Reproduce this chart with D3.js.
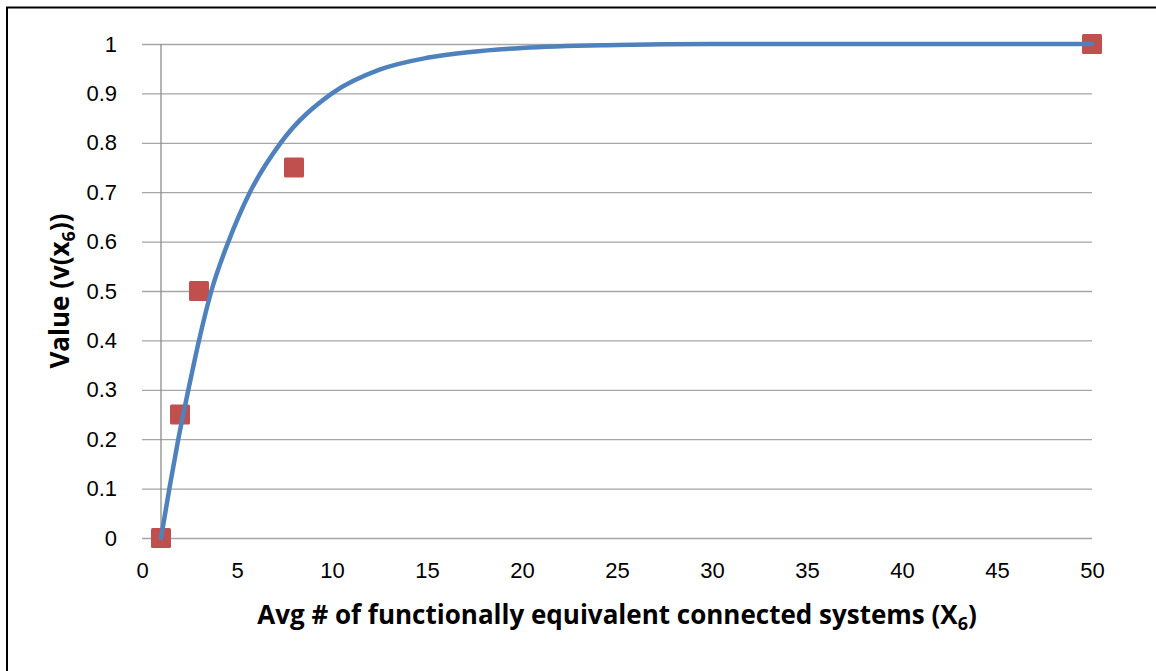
<!DOCTYPE html>
<html>
<head>
<meta charset="utf-8">
<script src="https://cdn.jsdelivr.net/npm/d3@7"></script>
<style>
  html, body { margin: 0; padding: 0; background: #fff; }
  svg { display: block; font-family: "Open Sans", "Liberation Sans", sans-serif; }
</style>
</head>
<body>
<div id="chart"></div>
<script>
// observed points (red squares)
var pointX = [1, 2, 3, 8, 50];
var pointY = [0, 0.25, 0.5, 0.75, 1];

// fitted curve
var curveX = [1, 1.44, 1.91, 2.44, 3.0, 3.65, 4.55, 5.68, 7.3, 10.0, 12.5, 15, 17.3, 20, 25, 30, 50];
var curveY = [0, 0.1, 0.2, 0.3, 0.4, 0.5, 0.6, 0.7, 0.8, 0.9, 0.948, 0.972, 0.984, 0.992, 0.998, 1, 1];

var xTicks = [0, 5, 10, 15, 20, 25, 30, 35, 40, 45, 50];
var yTicks = [0, 0.1, 0.2, 0.3, 0.4, 0.5, 0.6, 0.7, 0.8, 0.9, 1];

var W = 1156, H = 671;
var margin = { top: 44, right: 64, bottom: 133, left: 142 };

var svg = d3.select("#chart")
    .append("svg")
    .attr("width", W)
    .attr("height", H);

// outer frame (runs off the right and bottom edges)
svg.append("rect")
    .attr("x", 7)
    .attr("y", 7.5)
    .attr("width", W + 10)
    .attr("height", H + 10)
    .style("fill", "none")
    .style("stroke", "#000")
    .style("stroke-width", 2);

var x = d3.scaleLinear()
    .domain([0, 50])
    .range([margin.left, W - margin.right]);

var y = d3.scaleLinear()
    .domain([0, 1])
    .range([H - margin.bottom, margin.top]);

// horizontal gridlines
svg.append("g")
    .attr("transform", "translate(" + x(0) + ",0)")
    .call(d3.axisLeft(y).tickValues(yTicks).tickSize(-(x(50) - x(0))).tickFormat(""))
    .call(function(g) { g.select(".domain").remove(); })
    .selectAll("line")
    .style("stroke", "#a6a6a6")
    .style("stroke-width", 1.3);

// vertical axis line crosses at x = 1
svg.append("line")
    .attr("x1", x(1))
    .attr("x2", x(1))
    .attr("y1", y(1))
    .attr("y2", y(0))
    .style("stroke", "#8c8c8c")
    .style("stroke-width", 1.3);

// y tick labels
svg.append("g")
    .attr("transform", "translate(117,0)")
    .call(d3.axisLeft(y).tickValues(yTicks).tickSize(0).tickPadding(0)
        .tickFormat(function(d) { return d === 0 || d === 1 ? d : d3.format(".1f")(d); }))
    .call(function(g) { g.select(".domain").remove(); })
    .selectAll("text")
    .style("font-size", "22px")
    .style("fill", "#000");

// x tick labels
svg.append("g")
    .attr("transform", "translate(0," + (y(0) + 24) + ")")
    .call(d3.axisBottom(x).tickValues(xTicks).tickSize(0).tickPadding(0))
    .call(function(g) { g.select(".domain").remove(); })
    .selectAll("text")
    .style("font-size", "22px")
    .style("fill", "#000");

// markers
svg.append("g")
    .selectAll("rect")
    .data(pointX.map(function(d, i) { return { x: d, y: pointY[i] }; }))
    .enter()
    .append("rect")
    .attr("x", function(d) { return x(d.x) - 10; })
    .attr("y", function(d) { return y(d.y) - 10; })
    .attr("width", 20)
    .attr("height", 20)
    .attr("rx", 1.5)
    .style("fill", "#c0504d");

// fitted curve
var line = d3.line()
    .x(function(d) { return x(d[0]); })
    .y(function(d) { return y(d[1]); })
    .curve(d3.curveMonotoneX);

svg.append("path")
    .datum(curveX.map(function(d, i) { return [d, curveY[i]]; }))
    .attr("d", line)
    .style("fill", "none")
    .style("stroke", "#4f81bd")
    .style("stroke-width", 4.5)
    .style("stroke-linecap", "round");

// axis titles
var xTitle = svg.append("text")
    .attr("x", (x(0) + x(50)) / 2)
    .attr("y", 624)
    .attr("text-anchor", "middle")
    .style("font-size", "26px")
    .style("font-weight", "bold");
xTitle.append("tspan").text("Avg # of functionally equivalent connected systems (X");
xTitle.append("tspan").attr("dy", 6).style("font-size", "18px").text("6");
xTitle.append("tspan").attr("dy", -6).text(")");

var yTitle = svg.append("text")
    .attr("transform", "translate(69," + ((y(0) + y(1)) / 2) + ") rotate(-90)")
    .attr("text-anchor", "middle")
    .style("font-size", "26px")
    .style("font-weight", "bold");
yTitle.append("tspan").text("Value (v(x");
yTitle.append("tspan").attr("dy", 6).style("font-size", "18px").text("6");
yTitle.append("tspan").attr("dy", -6).text("))");
</script>
</body>
</html>
